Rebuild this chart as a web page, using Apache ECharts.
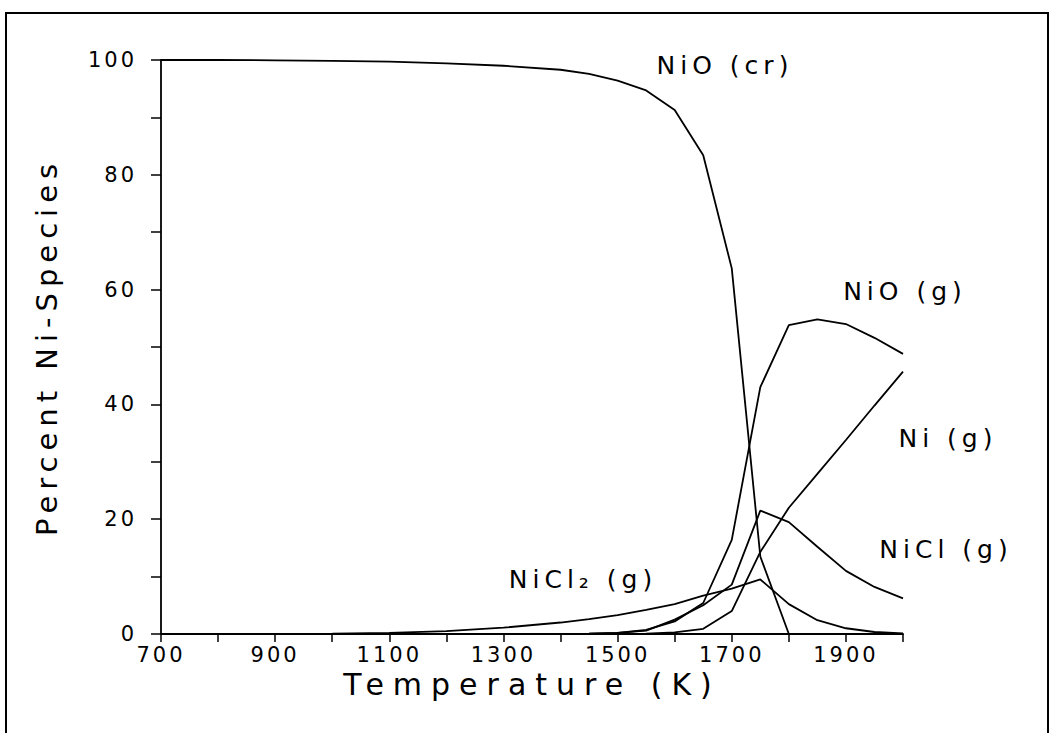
<!DOCTYPE html>
<html>
<head>
<meta charset="utf-8">
<script src="https://cdn.jsdelivr.net/npm/echarts@6/dist/echarts.min.js"></script>
<style>
  html, body { margin: 0; padding: 0; background: #fff; }
  #chart { width: 1051px; height: 733px; }
  /* the old plotter font is set very wide, so open the letters up a bit */
  #chart text[style*="30px"] { letter-spacing: 9px; }
  #chart text[style*="29px"] { letter-spacing: 6px; }
  #chart text[style*="25px"] { letter-spacing: 5px; }
  #chart text[style*="21px"] { letter-spacing: 3px; }
</style>
</head>
<body>
<div id="chart"></div>
<script>
// temperature grid (K)
const temps = [700, 800, 900, 1000, 1100, 1200, 1300, 1400, 1450, 1500, 1550, 1600, 1650, 1700, 1750, 1800, 1850, 1900, 1950, 2000];

// percent of Ni in each species
const nioCr  = [100, 100, 99.95, 99.85, 99.7, 99.4, 99.0, 98.3, 97.6, 96.4, 94.7, 91.3, 83.4, 63.7, 13.5, 0, null, null, null, null];
const nioG   = [0, 0, 0, 0, 0, 0, 0, 0, 0.05, 0.2, 0.7, 2.2, 5.4, 16.4, 43.0, 53.8, 54.8, 54.0, 51.6, 48.8];
const niG    = [0, 0, 0, 0, 0, 0, 0, 0, 0, 0, 0.05, 0.3, 0.9, 4.0, 14.3, 22.0, 27.9, 33.8, 39.8, 45.7];
const niclG  = [0, 0, 0, 0, 0, 0, 0, 0, 0.05, 0.2, 0.6, 2.5, 5.0, 8.6, 21.5, 19.5, 15.2, 11.0, 8.2, 6.2];
const nicl2G = [0, 0, 0.02, 0.06, 0.18, 0.5, 1.1, 2.0, 2.6, 3.3, 4.2, 5.2, 6.7, 7.9, 9.5, 5.2, 2.4, 1.0, 0.35, 0.1];

const xLabelStep = 200;
const yLabelStep = 20;

const FONT = 'DejaVu Sans';
const INK = '#000';

function pairs(vals) {
  return temps.map((t, i) => [t, vals[i]]);
}

function line(name, vals) {
  return {
    name: name,
    type: 'line',
    data: pairs(vals),
    showSymbol: false,
    silent: true,
    lineStyle: { color: INK, width: 1.8 },
    connectNulls: false
  };
}

// curve labels, placed where the original put them
function tag(text, cx, cy) {
  return {
    type: 'text',
    x: cx,
    y: cy,
    style: {
      text: text,
      fontFamily: FONT,
      fontSize: 25,
      fill: INK,
      align: 'center',
      verticalAlign: 'middle'
    }
  };
}

const chart = echarts.init(document.getElementById('chart'), null, { renderer: 'svg' });

chart.setOption({
  backgroundColor: '#fff',
  animation: false,
  grid: { left: 161, right: 148, top: 60, bottom: 99 },
  xAxis: {
    type: 'value',
    min: 700,
    max: 2000,
    interval: 100,
    name: 'Temperature (K)',
    nameLocation: 'middle',
    nameGap: 30,
    nameTextStyle: { fontFamily: FONT, fontSize: 30, color: INK },
    axisLine: { lineStyle: { color: INK, width: 1.8 } },
    axisTick: { length: 8, lineStyle: { color: INK, width: 1.5 } },
    splitLine: { show: false },
    axisLabel: {
      margin: 10,
      fontFamily: FONT,
      fontSize: 21,
      color: INK,
      formatter: v => ((v - 700) % xLabelStep === 0 ? String(v) : '')
    }
  },
  yAxis: {
    type: 'value',
    min: 0,
    max: 100,
    interval: 10,
    name: 'Percent Ni-Species',
    nameLocation: 'middle',
    nameGap: 100,
    nameTextStyle: { fontFamily: FONT, fontSize: 29, color: INK },
    axisLine: { show: true, lineStyle: { color: INK, width: 1.8 } },
    axisTick: { show: true, length: 10, lineStyle: { color: INK, width: 1.5 } },
    splitLine: { show: false },
    axisLabel: {
      margin: 24,
      fontFamily: FONT,
      fontSize: 21,
      color: INK,
      formatter: v => (v % yLabelStep === 0 ? String(v) : '')
    }
  },
  series: [
    line('NiO (cr)', nioCr),
    line('NiO (g)', nioG),
    line('Ni (g)', niG),
    line('NiCl (g)', niclG),
    line('NiCl2 (g)', nicl2G)
  ],
  graphic: [
    {
      type: 'polyline',
      shape: { points: [[6, 740], [6, 13], [1048, 13], [1048, 740]] },
      style: { stroke: INK, lineWidth: 2, fill: null }
    },
    tag('NiO (cr)', 725, 65),
    tag('NiO (g)', 905, 291),
    tag('Ni (g)', 948, 438),
    tag('NiCl (g)', 946, 549),
    tag('NiCl\u2082 (g)', 583, 579)
  ]
});
</script>
</body>
</html>
